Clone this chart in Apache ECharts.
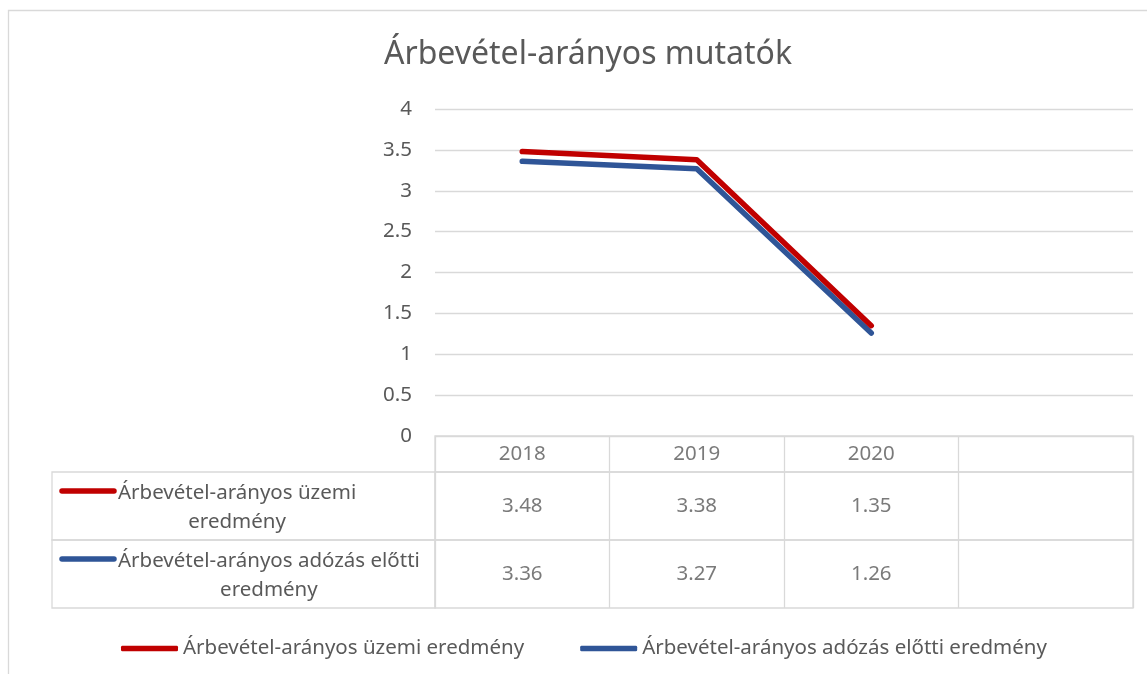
<!DOCTYPE html>
<html lang="hu">
<head>
  <meta charset="UTF-8">
  <title>Árbevétel-arányos mutatók</title>
  <script src="https://cdn.jsdelivr.net/npm/echarts@6/dist/echarts.min.js"></script>
  <style>
    html, body { margin: 0; padding: 0; background: #fff; }
    #chart { width: 1147px; height: 674px; }
  </style>
</head>
<body>
  <div id="chart"></div>
  <script>
    // adatok
    const years = ['2018', '2019', '2020', ''];
    const uzemi = [3.48, 3.38, 1.35];
    const adozas = [3.36, 3.27, 1.26];
    const seriesNames = ['Árbevétel-arányos üzemi eredmény', 'Árbevétel-arányos adózás előtti eredmény'];
    const rowLabels = [['Árbevétel-arányos üzemi', 'eredmény'], ['Árbevétel-arányos adózás előtti', 'eredmény']];
    const yMin = 0, yMax = 4, yStep = 0.5;

    const colors = ['#C00000', '#2F5597'];
    const font = 'Noto Sans';
    const txt = '#595959';
    const border = '#d9d9d9';
    const fs = 20.5;

    // table layout (pixels)
    const plotLeft = 435, plotRight = 14;
    const plotTop = 109, plotBottom = 436;
    const headH = 36, rowH = 68;
    const labelLeft = 52;

    const chart = echarts.init(document.getElementById('chart'));

    function measure(s, size) {
      const c = document.createElement('canvas').getContext('2d');
      c.font = size + 'px "' + font + '"';
      return c.measureText(s).width;
    }

    const tableAxis = (gi) => ({
      type: 'category', gridIndex: gi, data: years, boundaryGap: true,
      axisLine: { show: false }, axisTick: { show: false }, axisLabel: { show: false },
      splitLine: { show: true, interval: 0, lineStyle: { color: border, width: 1.3 } }
    });
    const hiddenY = (gi) => ({ type: 'value', gridIndex: gi, min: 0, max: 1, show: false });
    const cellSeries = (gi, vals, fmt) => ({
      type: 'scatter', xAxisIndex: gi, yAxisIndex: gi, symbolSize: 1, silent: true,
      itemStyle: { color: 'rgba(0,0,0,0)' },
      data: vals.map((v, i) => [i, 0.5]),
      label: {
        show: true, position: 'inside', color: txt, fontFamily: font, fontSize: fs,
        formatter: p => fmt(vals[p.dataIndex])
      }
    });

    // row labels with line swatch
    const graphics = [{
      type: 'rect', shape: { x: 8.5, y: 10.5, width: 1160, height: 700 },
      style: { fill: 'none', stroke: border, lineWidth: 1.3 }, silent: true
    }];
    rowLabels.forEach((lines, r) => {
      const top = plotBottom + headH + r * rowH;
      const y1 = top + 21;
      const w = measure(lines[0], fs);
      const cx = 118 + w / 2;
      graphics.push({
        type: 'line', shape: { x1: 62, y1: y1 - 2, x2: 114, y2: y1 - 2 },
        style: { stroke: colors[r], lineWidth: 5.5, lineCap: 'round' }
      });
      lines.forEach((s, k) => {
        graphics.push({
          type: 'text', x: cx, y: y1 + k * 29,
          style: { text: s, fill: txt, font: fs + 'px "' + font + '"', align: 'center', verticalAlign: 'middle' }
        });
      });
    });

    const option = {
      backgroundColor: '#fff',
      animation: false,
      title: {
        text: 'Árbevétel-arányos mutatók', left: 379, top: 34,
        textStyle: { color: txt, fontFamily: font, fontSize: 32, fontWeight: 'normal' }
      },
      legend: {
        left: 116, top: 633, itemWidth: 57, itemHeight: 5.5, itemGap: 56, icon: 'roundRect',
        data: seriesNames,
        textStyle: { color: txt, fontFamily: font, fontSize: fs }
      },
      grid: [
        { left: plotLeft, right: plotRight, top: plotTop, height: plotBottom - plotTop },
        { left: plotLeft, right: plotRight, top: plotBottom, height: headH, show: true, borderColor: border, borderWidth: 1.3 },
        { left: plotLeft, right: plotRight, top: plotBottom + headH, height: rowH, show: true, borderColor: border, borderWidth: 1.3 },
        { left: plotLeft, right: plotRight, top: plotBottom + headH + rowH, height: rowH, show: true, borderColor: border, borderWidth: 1.3 },
        { left: labelLeft, width: plotLeft - labelLeft, top: plotBottom + headH, height: rowH, show: true, borderColor: border, borderWidth: 1.3 },
        { left: labelLeft, width: plotLeft - labelLeft, top: plotBottom + headH + rowH, height: rowH, show: true, borderColor: border, borderWidth: 1.3 }
      ],
      xAxis: [
        {
          type: 'category', gridIndex: 0, data: years, boundaryGap: true,
          axisLine: { show: false }, axisTick: { show: false }, axisLabel: { show: false }
        },
        tableAxis(1), tableAxis(2), tableAxis(3),
        { type: 'value', gridIndex: 4, show: false }, { type: 'value', gridIndex: 5, show: false }
      ],
      yAxis: [
        {
          type: 'value', gridIndex: 0, min: yMin, max: yMax, interval: yStep,
          axisLine: { show: false }, axisTick: { show: false },
          axisLabel: { color: txt, fontFamily: font, fontSize: fs, margin: 23 },
          splitLine: { lineStyle: { color: border, width: 1.3 } }
        },
        hiddenY(1), hiddenY(2), hiddenY(3), hiddenY(4), hiddenY(5)
      ],
      series: [
        {
          name: seriesNames[1], type: 'line', data: adozas, showSymbol: false, color: colors[1],
          lineStyle: { width: 5.5, cap: 'round', join: 'round' }, z: 2
        },
        {
          name: seriesNames[0], type: 'line', data: uzemi, showSymbol: false, color: colors[0],
          lineStyle: { width: 5.5, cap: 'round', join: 'round' }, z: 3
        },
        cellSeries(1, years.slice(0, 3), v => v),
        cellSeries(2, uzemi, v => v.toFixed(2)),
        cellSeries(3, adozas, v => v.toFixed(2))
      ],
      graphic: graphics
    };
    chart.setOption(option);
  </script>
</body>
</html>
